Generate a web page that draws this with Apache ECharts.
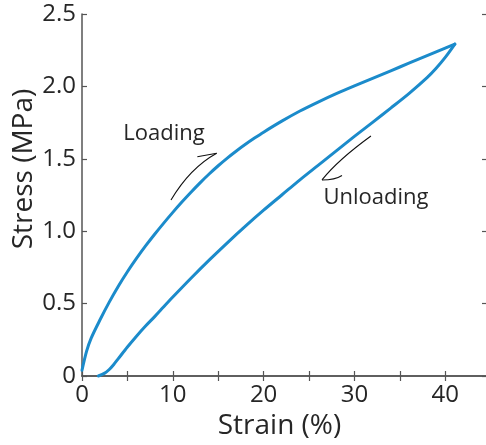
<!DOCTYPE html>
<html><head><meta charset="utf-8">
<script src="https://cdn.jsdelivr.net/npm/echarts@6/dist/echarts.min.js"></script>
<style>html,body{margin:0;padding:0;background:#fff}#c{width:486px;height:445px}</style>
</head><body><div id="c"></div>
<script>
// ---- data ----
const loadingStrain = [0, 0.5, 1, 2, 3, 4, 5, 6, 7, 8, 9, 10, 11, 12, 13, 14, 15, 16, 17, 18, 19, 20, 22, 24, 26, 28, 30, 32, 34, 36, 38, 40, 41.06];
const loadingStress = [0.04, 0.17, 0.26, 0.39, 0.51, 0.62, 0.72, 0.812, 0.898, 0.979, 1.056, 1.13, 1.201, 1.269, 1.334, 1.395, 1.452, 1.505, 1.554, 1.6, 1.643, 1.684, 1.76, 1.83, 1.892, 1.95, 2.004, 2.056, 2.108, 2.16, 2.212, 2.264, 2.292];
const unloadingStrain = [41.06, 40, 39, 38, 36, 34, 32, 30, 28, 26, 24, 22, 20, 18, 16, 14, 12, 10, 9, 8, 7, 6, 5, 4, 3.5, 3, 2.5, 1.8];
const unloadingStress = [2.292, 2.2, 2.125, 2.06, 1.95, 1.85, 1.752, 1.655, 1.555, 1.455, 1.355, 1.25, 1.145, 1.035, 0.92, 0.8, 0.675, 0.545, 0.478, 0.41, 0.345, 0.275, 0.2, 0.12, 0.08, 0.045, 0.02, 0];
const xTickLabels = ['0', '10', '20', '30', '40'];
const yTickLabels = ['0', '0.5', '1.0', '1.5', '2.0', '2.5'];
const xAxisTitle = 'Strain (%)';
const yAxisTitle = 'Stress (MPa)';
const annotationLabels = ['Loading', 'Unloading'];

// annotation anchors in data units (strain, stress)
const loadingText = [9.03, 1.671];
const loadingArrow = { hookStart: [12.70, 1.514], tip: [14.83, 1.538], ctrl: [11.89, 1.436], end: [9.80, 1.215] };
const unloadingText = [32.37, 1.229];
const unloadingArrow = { start: [31.82, 1.657], ctrl: [28.19, 1.492], tip: [26.43, 1.354], hookCtrl: [27.86, 1.354], hookEnd: [28.63, 1.385] };

const FONT = '"Open Sans", "Noto Sans", sans-serif';
const BLUE = '#1b8bcb';
const AXIS = '#555555';
const TEXT = '#262626';

const zip = (a, b) => a.map((v, i) => [v, b[i]]);
const xLab = v => { const r = Math.round(v); const s = String(r); return (Math.abs(v - r) < 1e-6 && r % 10 === 0 && xTickLabels.includes(s)) ? s : ''; };
const yLab = v => { const i = Math.round(v / 0.5); return Math.abs(v - i * 0.5) < 1e-6 && yTickLabels[i] !== undefined ? yTickLabels[i] : ''; };

const chart = echarts.init(document.getElementById('c'), null, { renderer: 'canvas' });
const xCommon = { type: 'value', min: 0, max: 44.6, interval: 5,
  axisLine: { show: true, lineStyle: { color: AXIS, width: 1.5 } },
  axisTick: { show: true, inside: true, length: 5, lineStyle: { color: AXIS, width: 1.2 } },
  splitLine: { show: false } };
const yCommon = { type: 'value', min: 0, max: 2.5, interval: 0.5,
  axisLine: { show: true, onZero: false, lineStyle: { color: AXIS, width: 1.5 } },
  axisTick: { show: true, inside: true, length: 5, lineStyle: { color: AXIS, width: 1.2 } },
  splitLine: { show: false } };

chart.setOption({
  animation: false,
  backgroundColor: '#fff',
  grid: { left: 82, top: 14, width: 405, bottom: 69, containLabel: false, outerBoundsMode: 'none' },
  xAxis: [
    Object.assign({}, xCommon, { position: 'bottom', name: xAxisTitle, nameLocation: 'middle', nameGap: 29,
      nameTextStyle: { fontFamily: FONT, fontSize: 28, color: TEXT, padding: [0, 10, 0, 0] },
      axisLabel: { show: true, margin: 7, fontFamily: FONT, fontSize: 24, color: TEXT, formatter: xLab, showMaxLabel: false } }),
    Object.assign({}, xCommon, { position: 'top', axisLabel: { show: false } })
  ],
  yAxis: [
    Object.assign({}, yCommon, { position: 'left', name: yAxisTitle, nameLocation: 'middle', nameGap: 44, nameMoveOverlap: false,
      nameTextStyle: { fontFamily: FONT, fontSize: 28, color: TEXT, padding: [0, 0, 0, 52] },
      axisLabel: { show: true, margin: 6, fontFamily: FONT, fontSize: 24, color: TEXT, formatter: yLab } }),
    Object.assign({}, yCommon, { position: 'right', axisLabel: { show: false } })
  ],
  series: [
    { name: annotationLabels[0], type: 'line', data: zip(loadingStrain, loadingStress), showSymbol: false, smooth: 0.3,
      lineStyle: { color: BLUE, width: 3, cap: 'round', join: 'round' }, clip: false },
    { name: annotationLabels[1], type: 'line', data: zip(unloadingStrain, unloadingStress), showSymbol: false, smooth: 0.3,
      lineStyle: { color: BLUE, width: 3, cap: 'round', join: 'round' }, clip: false }
  ]
});

const P = d => chart.convertToPixel({ xAxisIndex: 0, yAxisIndex: 0 }, d);
const curve = (a, c, b) => { const p1 = P(a), pc = P(c), p2 = P(b);
  return { type: 'bezierCurve', silent: true, shape: { x1: p1[0], y1: p1[1], x2: p2[0], y2: p2[1], cpx1: pc[0], cpy1: pc[1] },
    style: { stroke: '#111', lineWidth: 1.1, fill: null } }; };
const line = (a, b) => { const p1 = P(a), p2 = P(b);
  return { type: 'line', silent: true, shape: { x1: p1[0], y1: p1[1], x2: p2[0], y2: p2[1] }, style: { stroke: '#111', lineWidth: 1.1 } }; };
const label = (t, d) => { const p = P(d);
  return { type: 'text', silent: true, x: p[0], y: p[1], style: { text: t, fontFamily: FONT, fontSize: 22, fill: TEXT, align: 'center', verticalAlign: 'middle' } }; };

chart.setOption({ graphic: [
  label(annotationLabels[0], loadingText),
  line(loadingArrow.hookStart, loadingArrow.tip),
  curve(loadingArrow.tip, loadingArrow.ctrl, loadingArrow.end),
  label(annotationLabels[1], unloadingText),
  curve(unloadingArrow.start, unloadingArrow.ctrl, unloadingArrow.tip),
  curve(unloadingArrow.tip, unloadingArrow.hookCtrl, unloadingArrow.hookEnd)
] });
</script>
</body></html>
